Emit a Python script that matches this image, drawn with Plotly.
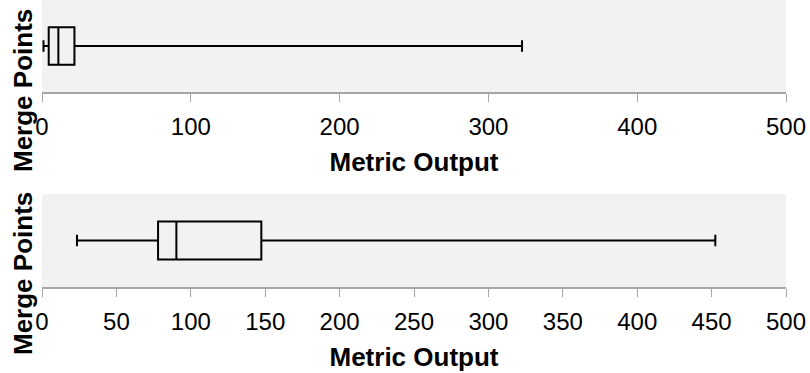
import plotly.graph_objects as go

# ---- data ----
lower_fence = [1, 23.5]
q1 = [4.5, 78]
median = [11, 90.3]
q3 = [21.8, 147.4]
upper_fence = [322.6, 452.5]
tick_step = [100, 50]
x_range = [0, 500]
x_title = "Metric Output"
y_title = "Merge Points"

W, H = 810, 373
ml, mr, mt, mb = 42, 24, 0, 86
plot_h = H - mt - mb

# pixel extents of panels (from top of plot area)
panel_px = [(0, 92), (194, 287)]
domains = [[1 - b / plot_h, 1 - a / plot_h] for a, b in panel_px]

FONT = "Arial, Liberation Sans, sans-serif"
fig = go.Figure()
for i in range(2):
    suf = "" if i == 0 else str(i + 1)
    fig.add_trace(go.Box(
        q1=[q1[i]], median=[median[i]], q3=[q3[i]],
        lowerfence=[lower_fence[i]], upperfence=[upper_fence[i]],
        y=[0], orientation="h", width=0.41, whiskerwidth=0.3,
        line=dict(color="black", width=2), fillcolor="rgba(0,0,0,0)",
        boxpoints=False, showlegend=False, hoverinfo="skip",
        xaxis="x" + suf, yaxis="y" + suf,
    ))
    fig.update_layout(**{
        "xaxis" + suf: dict(
            domain=[0, 1], anchor="y" + suf, range=x_range, dtick=tick_step[i],
            tick0=0, ticks="outside", ticklen=8, tickwidth=1, tickcolor="#a6a6a6",
            showline=True, linecolor="#a6a6a6", linewidth=1.5,
            showgrid=False, zeroline=False, ticklabelstandoff=4,
            tickfont=dict(family=FONT, size=24, color="black"),
            title=dict(text="<b>" + x_title + "</b>", standoff=14,
                       font=dict(family=FONT, size=26, color="black")),
        ),
        "yaxis" + suf: dict(
            domain=domains[i], anchor="x" + suf, range=[-0.5, 0.5],
            showticklabels=False, showgrid=False, zeroline=False,
            showline=False, ticks="",
        ),
    })

# y titles as rotated annotations
y_centers_px = [91, 274]
for yc in y_centers_px:
    fig.add_annotation(
        text="<b>" + y_title + "</b>", textangle=-90, showarrow=False,
        xref="paper", yref="paper", x=(23 - ml) / (W - ml - mr),
        y=(plot_h - yc) / plot_h, xanchor="center", yanchor="middle",
        font=dict(family=FONT, size=26, color="black"),
    )

fig.update_layout(
    width=W, height=H, margin=dict(l=ml, r=mr, t=mt, b=mb, autoexpand=False),
    paper_bgcolor="white", plot_bgcolor="#f2f2f2", showlegend=False,
)
fig.write_html("out.html")
